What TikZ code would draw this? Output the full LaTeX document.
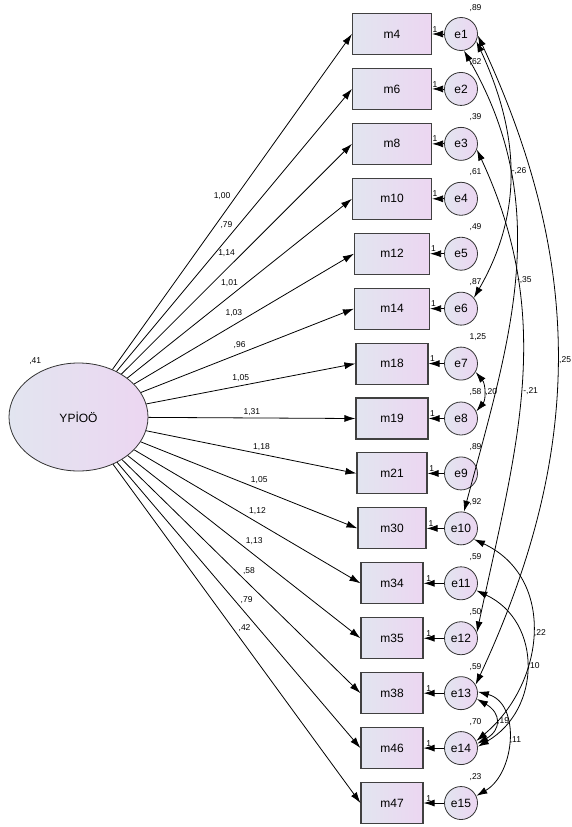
\documentclass[tikz,border=0pt]{standalone}
\usepackage{fontspec}
\setmainfont{Liberation Sans}
\usetikzlibrary{shapes.geometric,arrows.meta}
\definecolor{amosblue}{RGB}{226,229,240}
\definecolor{amospink}{RGB}{236,214,241}

\begin{document}
\begin{tikzpicture}[x=1pt,y=1pt]
\tikzset{obs/.style ={draw=black!75, line width=1.1pt, left color=amosblue, right color=amospink,
  minimum height=41pt, inner sep=0pt, font=\fontsize{12}{14}\selectfont}}
\tikzset{err/.style ={circle, draw=black!80, line width=0.8pt, left color=amosblue, right color=amospink,
  minimum size=33pt, inner sep=0pt, font=\fontsize{12}{14}\selectfont}}
\tikzset{lbl/.style ={font=\fontsize{8.5}{10}\selectfont, inner sep=1.5pt}}
\tikzset{loading/.style ={-{Latex[length=11pt,width=7pt]}, line width=0.8pt}}
\tikzset{cov/.style ={{Latex[length=11pt,width=7pt]}-{Latex[length=11pt,width=7pt]}, line width=0.8pt}}
\useasboundingbox (0,0) rectangle (571,-827);
% latent variable
\node[ellipse, draw=black!80, line width=0.8pt, left color=amosblue, right color=amospink,
  minimum width=139pt, minimum height=108pt, font=\fontsize{12}{14}\selectfont] (lv) at (78.5,-417) {YPİOÖ};
\node[lbl, anchor=base west] (lvvar) at ([shift={(-1.5,15)}]lv.north west) {,41};
% items and errors
\foreach \m/\w/\ld/\vr [count=\i] in {4/79/{1,00}/{,89}, 6/79/{,79}/{,62}, 8/79/{1,14}/{,39},
  10/79/{1,01}/{,61}, 12/75/{1,03}/{,49}, 14/75/{,96}/{,87}, 18/72/{1,05}/{1,25}, 19/72/{1,31}/{,58},
  21/70/{1,18}/{,89}, 30/68/{1,05}/{,92}, 34/62/{1,12}/{,59}, 35/62/{1,13}/{,50}, 38/62/{,58}/{,59},
  46/62/{,79}/{,70}, 47/62/{,42}/{,23}}{
  \node[obs, minimum width=\w pt] (m\m) at (392,{-34-54.93*(\i-1)}) {m\m};
  \node[err] (e\i) at (461,{-34-54.93*(\i-1)}) {e\i};
  \node[lbl, anchor=base west] (v\i) at ([shift={(-5,12)}]e\i.north east) {\vr};
  \draw[loading] (e\i) -- node[lbl, pos=.75, above] (one\i) {1} (m\m);
  \draw[loading] (lv) -- node[lbl, auto, pos=.5] (ld\i) {\ld} (m\m.west);
}
% covariances
\draw[cov] (e1.-25) to[out=-65,in=60] node[lbl,auto] (c1) {-,26} (e6.40);
\draw[cov] (e1.-80) to[out=-60,in=75] node[lbl,auto] (c2) {-,35} (e10.80);
\draw[cov] (e1.-5) to[out=-65,in=65] node[lbl,auto] (c3) {,25} (e13.30);
\draw[cov] (e3.-20) to[out=-65,in=78] node[lbl,auto] (c4) {-,21} (e12.20);
\draw[cov] (e7.-30) to[out=-50,in=50] node[lbl,auto] (c5) {,20} (e8.25);
\draw[cov] (e10.-40) to[out=-25,in=40,looseness=1.15] node[lbl,auto] (c6) {,22} (e14.25);
\draw[cov] (e11.-25) to[out=-25,in=30,looseness=1.2] node[lbl,auto] (c7) {,10} (e14.5);
\draw[cov] (e13.-20) to[out=-30,in=30,looseness=1.6] node[lbl,auto] (c8) {,19} (e14.15);
\draw[cov] (e13.5) to[out=-15,in=30,looseness=1.1] node[lbl,auto] (c9) {,11} (e15.25);
\end{tikzpicture}
\end{document}
